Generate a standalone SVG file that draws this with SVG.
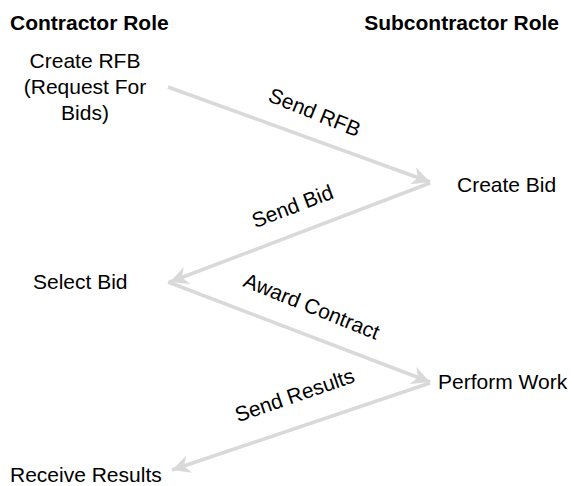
<svg xmlns="http://www.w3.org/2000/svg" width="574" height="486" viewBox="0 0 574 486">
<defs>
<marker id="ah" viewBox="0 0 10 10" refX="10" refY="5" markerWidth="5.2" markerHeight="5.2" markerUnits="strokeWidth" orient="auto">
<path d="M0,0 L10,5 L0,10 L3,5 Z" fill="#d9d9d9"/>
</marker>
<style>
text{font-family:"Liberation Sans",Arial,sans-serif;font-size:21px;fill:#000}
.h{font-weight:bold}
.l{font-size:21px}
.c{stroke:#d9d9d9;stroke-width:3.5;fill:none;marker-end:url(#ah)}
</style>
</defs>
<g id="connectors">
<line class="c" x1="168" y1="87" x2="430" y2="182"/>
<line class="c" x1="430" y1="183" x2="170" y2="282"/>
<line class="c" x1="168" y1="282" x2="430" y2="382"/>
<line class="c" x1="430" y1="383" x2="172" y2="470"/>
<text class="l" text-anchor="middle" transform="translate(312,119) rotate(22)">Send RFB</text>
<text class="l" text-anchor="middle" transform="translate(295,213) rotate(-21)">Send Bid</text>
<text class="l" text-anchor="middle" transform="translate(309,313) rotate(22)">Award Contract</text>
<text class="l" text-anchor="middle" transform="translate(297,402) rotate(-19)">Send Results</text>
</g>
<g id="contractor-role"><text class="h" x="10" y="30">Contractor Role</text></g>
<g id="subcontractor-role"><text class="h" x="559" y="30" text-anchor="end">Subcontractor Role</text></g>
<g id="create-rfb"><text x="85" y="68" text-anchor="middle">Create RFB</text><text x="85" y="94" text-anchor="middle">(Request For</text><text x="85" y="120" text-anchor="middle">Bids)</text></g>
<g id="create-bid"><text x="457" y="192">Create Bid</text></g>
<g id="select-bid"><text x="33" y="289">Select Bid</text></g>
<g id="perform-work"><text x="438" y="389">Perform Work</text></g>
<g id="receive-results"><text x="10" y="482">Receive Results</text></g>
</svg>
